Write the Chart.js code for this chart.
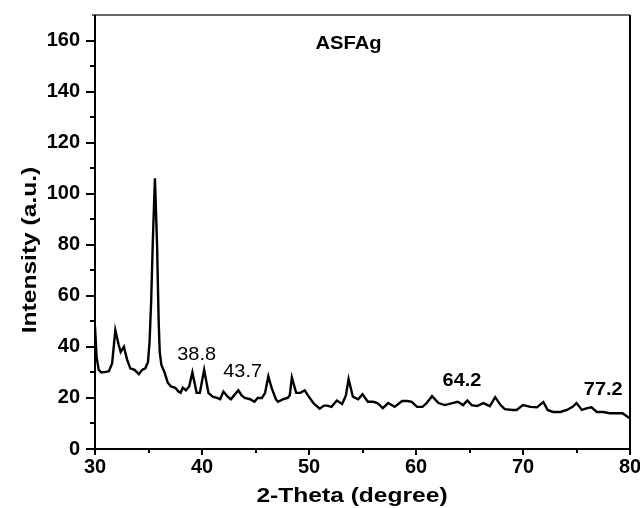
<!DOCTYPE html>
<html>
<head>
<meta charset="utf-8">
<script src="https://cdn.jsdelivr.net/npm/chart.js@4.4.0/dist/chart.umd.min.js"></script>
<style>
  html, body { margin: 0; padding: 0; background: #fff; }
  canvas { display: block; }
</style>
</head>
<body>
<canvas id="xrd" width="640" height="508"></canvas>
<script>
// 2-theta positions (degree) and intensity (a.u.)
const twoTheta = [
  30.0, 30.15, 30.35, 30.6, 31.0, 31.3, 31.6, 31.9, 32.2, 32.4,
  32.7, 33.0, 33.3, 33.7, 34.1, 34.4, 34.7, 34.95, 35.1, 35.25,
  35.4, 35.6, 35.8, 35.95, 36.05, 36.2, 36.5, 36.8, 37.1, 37.5,
  37.8, 38.0, 38.2, 38.5, 38.8, 39.1, 39.5, 39.8, 40.2, 40.6,
  41.0, 41.4, 41.7, 42.0, 42.4, 42.7, 43.0, 43.4, 43.7, 44.0,
  44.5, 44.9, 45.2, 45.6, 45.9, 46.2, 46.5, 46.9, 47.1, 47.6,
  48.0, 48.2, 48.4, 48.8, 49.2, 49.6, 49.9, 50.4, 51.0, 51.4,
  51.7, 52.1, 52.6, 53.1, 53.45, 53.7, 54.1, 54.6, 55.0, 55.5,
  56.0, 56.4, 56.9, 57.4, 58.0, 58.7, 59.2, 59.6, 60.1, 60.6,
  61.0, 61.5, 62.1, 62.7, 63.4, 63.9, 64.4, 64.8, 65.2, 65.7,
  66.3, 66.9, 67.4, 67.9, 68.3, 69.0, 69.4, 70.0, 70.7, 71.3,
  71.9, 72.3, 72.8, 73.5, 74.1, 74.6, 75.0, 75.5, 76.0, 76.4,
  76.9, 77.5, 78.1, 78.8, 79.3, 79.8, 80.0
];
const intensity = [
  48, 36, 31, 30, 30.2, 30.5, 33.5, 46.5, 41, 38,
  40, 35, 31.6, 31, 29.3, 31, 31.6, 34, 42, 58,
  81, 106, 80, 50, 38, 33, 30, 26, 24.5, 24,
  22.5, 22, 24, 23, 24.5, 30, 22, 22, 31, 22,
  20.5, 20, 19.5, 22.5, 20.5, 19.5, 21, 23, 21, 20,
  19.5, 18.5, 20, 20, 22, 28.5, 24, 19.5, 18.5, 19.5,
  20, 21, 28, 22, 22, 23, 21, 18, 15.8, 17,
  17, 16.5, 19, 17.6, 21, 27.4, 20.5, 19.5, 21.5, 18.5,
  18.5, 18, 16, 18, 16.5, 18.8, 18.8, 18.5, 16.5, 16.5,
  18, 20.7, 18, 17.2, 18, 18.5, 17.2, 19, 17.2, 16.8,
  18, 16.8, 20.3, 17.2, 15.6, 15.3, 15.3, 17.2, 16.5, 16.3,
  18.4, 15.3, 14.5, 14.5, 15.3, 16.4, 18, 15.3, 16, 16.3,
  14.5, 14.5, 14, 14, 14, 12.5, 12
];

// peak labels, placed in data units
const peakLabels = ['38.8', '43.7', '64.2', '77.2'];
const peakLabelX = [39.5, 43.8, 64.3, 77.5];
const peakLabelY = [36.8, 30.1, 26.6, 23.1];
const peakLabelBold = [false, false, true, true];

const sampleName = 'ASFAg';
const xTitle = '2-Theta (degree)';
const yTitle = 'Intensity (a.u.)';

const points = twoTheta.map((t, i) => ({ x: t, y: intensity[i] }));

const FONT = "'Liberation Sans', Arial, sans-serif";

function stretchedText(ctx, text, x, y, font, sx, rot) {
  ctx.save();
  ctx.translate(x, y);
  if (rot) ctx.rotate(rot);
  ctx.scale(sx, 1);
  ctx.font = font;
  ctx.fillStyle = '#000';
  ctx.textAlign = 'center';
  ctx.textBaseline = 'middle';
  ctx.fillText(text, 0, 0);
  ctx.restore();
}

function noPad(scale) {
  scale.paddingTop = 0;
  scale.paddingBottom = 0;
  scale.paddingLeft = 0;
  scale.paddingRight = 0;
}

const framePlugin = {
  id: 'frame',
  afterDraw(chart) {
    const ctx = chart.ctx;
    const a = chart.chartArea;
    const xs = chart.scales.x;
    const ys = chart.scales.y;
    ctx.save();
    // top + right border
    ctx.strokeStyle = '#666';
    ctx.lineWidth = 2;
    ctx.beginPath();
    ctx.moveTo(a.left - 3, a.top);
    ctx.lineTo(a.right, a.top);
    ctx.stroke();
    ctx.strokeStyle = '#000';
    ctx.beginPath();
    ctx.moveTo(a.right, a.top);
    ctx.lineTo(a.right, a.bottom);
    ctx.stroke();
    // left + bottom axes
    ctx.beginPath();
    ctx.moveTo(a.left, a.top);
    ctx.lineTo(a.left, a.bottom);
    ctx.lineTo(a.right, a.bottom);
    ctx.stroke();

    // y ticks (major every 20, minor every 10)
    for (let v = 0; v <= 160; v += 10) {
      const py = Math.round(ys.getPixelForValue(v));
      const len = v % 20 === 0 ? 9 : 5;
      ctx.beginPath();
      ctx.moveTo(a.left - len, py);
      ctx.lineTo(a.left, py);
      ctx.stroke();
    }
    // x ticks (major every 10, minor every 5)
    for (let v = 30; v <= 80; v += 5) {
      const px = Math.round(xs.getPixelForValue(v));
      const len = v % 10 === 0 ? 6 : 4;
      ctx.beginPath();
      ctx.moveTo(px, a.bottom);
      ctx.lineTo(px, a.bottom + len);
      ctx.stroke();
    }

    // peak labels
    peakLabels.forEach((txt, i) => {
      const px = xs.getPixelForValue(peakLabelX[i]);
      const py = ys.getPixelForValue(peakLabelY[i]);
      const f = (peakLabelBold[i] ? 'bold ' : '') + '19px ' + FONT;
      stretchedText(ctx, txt, px, py, f, 1.05, 0);
    });
    stretchedText(ctx, sampleName, xs.getPixelForValue(53.7), ys.getPixelForValue(158.8),
      'bold 18px ' + FONT, 1.12, 0);

    // axis titles
    stretchedText(ctx, xTitle, 352, 496, 'bold 21px ' + FONT, 1.17, 0);
    stretchedText(ctx, yTitle, 30, 250, 'bold 21px ' + FONT, 1.17, -Math.PI / 2);
    ctx.restore();
  }
};

new Chart(document.getElementById('xrd'), {
  type: 'line',
  data: {
    datasets: [{
      data: points,
      borderColor: '#000',
      borderWidth: 2.4,
      pointRadius: 0,
      tension: 0,
      fill: false
    }]
  },
  options: {
    responsive: false,
    animation: false,
    layout: { padding: { top: 15, right: 10, left: 0, bottom: 0 } },
    plugins: {
      legend: { display: false },
      tooltip: { enabled: false }
    },
    scales: {
      x: {
        type: 'linear',
        min: 30,
        max: 80,
        grid: { display: false, drawTicks: false },
        border: { display: false },
        ticks: {
          stepSize: 10,
          padding: 6,
          color: '#000',
          font: { family: FONT, size: 20, weight: 'bold' }
        },
        afterFit(scale) { scale.height = 59; noPad(scale); }
      },
      y: {
        min: 0,
        max: 170,
        grid: { display: false, drawTicks: false },
        border: { display: false },
        ticks: {
          stepSize: 20,
          includeBounds: false,
          padding: 15,
          color: '#000',
          font: { family: FONT, size: 20, weight: 'bold' },
          callback: (v) => (v % 20 === 0 && v <= 160 ? v : '')
        },
        afterFit(scale) { scale.width = 95; noPad(scale); }
      }
    }
  },
  plugins: [framePlugin]
});
</script>
</body>
</html>
